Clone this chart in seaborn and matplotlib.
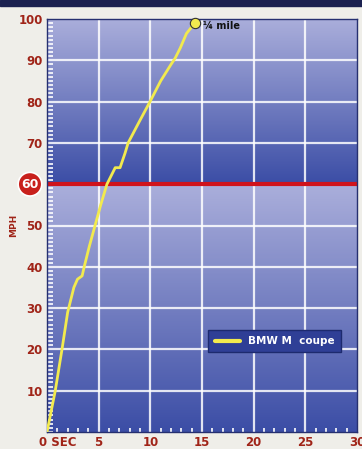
import numpy as np
import matplotlib
matplotlib.use("Agg")
import matplotlib.pyplot as plt
import matplotlib.transforms as mtransforms
from matplotlib.colors import LinearSegmentedColormap
import pandas as pd
import seaborn as sns

# acceleration run
seconds = [0.0, 0.4, 0.8, 1.45, 2.0, 2.6, 2.95, 3.4, 3.6, 4.1, 4.65, 5.2, 5.8, 6.2, 6.6, 7.07, 7.55, 7.85, 8.9, 9.97, 11.0, 12.0, 12.4, 12.9, 13.5, 14.3]
mph = [0.0, 5.0, 10.0, 20.0, 29.0, 35.0, 37.0, 37.8, 40.0, 45.0, 50.0, 55.0, 60.0, 62.0, 64.0, 64.0, 67.5, 70.0, 75.0, 80.0, 85.0, 89.0, 90.5, 93.0, 96.5, 99.0]
car = "BMW M  coupe"
x_ticks = [0, 5, 10, 15, 20, 25, 30]
x_labels = ["0 SEC", "5", "10", "15", "20", "25", "30"]
y_ticks = [10, 20, 30, 40, 50, 60, 70, 80, 90, 100]
y_labels = ["10", "20", "30", "40", "50", "", "70", "80", "90", "100"]
quarter_mile = (14.3, 99.0)

df = pd.DataFrame({"sec": seconds, "mph": mph, "car": car})

sns.set_style("white")
plt.rcParams["font.family"] = ["Liberation Sans Narrow", "DejaVu Sans"]

label_red = "#a02418"

fig = plt.figure(figsize=(3.62, 4.49), dpi=100, facecolor="#efeee9")
ax = fig.add_axes([47 / 362, 17 / 449, 310 / 362, 413 / 449])

# background gradients: 100 -> 60 and 60 -> 0
cmap = LinearSegmentedColormap.from_list("bg", ["#3c4ea6", "#aaaedb"])
grad = np.linspace(0, 1, 100).reshape(-1, 1)
ax.imshow(grad, extent=[0, 30, 60, 100], origin="lower", cmap=cmap, aspect="auto", zorder=0)
ax.imshow(grad, extent=[0, 30, 0, 60], origin="lower", cmap=cmap, aspect="auto", zorder=0)

for xv in x_ticks[1:-1]:
    ax.axvline(xv, color="white", lw=1.6, alpha=0.85, zorder=1)
for yv in y_ticks[:-1]:
    if yv != 60:
        ax.axhline(yv, color="white", lw=1.6, alpha=0.85, zorder=1)
ax.axhline(60, color="#d0131c", lw=3, zorder=2)

sns.lineplot(data=df, x="sec", y="mph", hue="car", palette=["#f2ea4e"],
             lw=2, ax=ax, zorder=3, sort=False)
ax.scatter([quarter_mile[0]], [quarter_mile[1]], s=55, color="#f2ea4e",
           edgecolor="#333333", lw=0.8, zorder=4, clip_on=False)
ax.text(quarter_mile[0] + 0.8, quarter_mile[1] - 0.8, "¼ mile", fontsize=7,
        fontweight="bold", color="#111111", va="center", zorder=4)

ax.set_xlim(0, 30)
ax.set_ylim(0, 100)
ax.set_xticks(x_ticks)
ax.set_xticklabels(x_labels)
ax.set_yticks(y_ticks)
ax.set_yticklabels(y_labels)
ax.set_xticks(np.arange(0, 31, 1), minor=True)
ax.set_yticks(np.arange(0, 101, 1), minor=True)
ax.tick_params(axis="both", which="major", length=0, labelsize=8.5,
               labelcolor=label_red, pad=3)
ax.tick_params(axis="x", which="minor", direction="in", length=3, width=1.2,
               color="white", bottom=True)
ax.tick_params(axis="y", which="minor", direction="in", length=4, width=1.2,
               color="white", left=True)
for lab in ax.get_xticklabels() + ax.get_yticklabels():
    lab.set_fontweight("bold")
first = ax.get_xticklabels()[0]
first.set_ha("left")
first.set_transform(first.get_transform() + mtransforms.ScaledTranslation(-6 / 72, 0, fig.dpi_scale_trans))

ax.set_xlabel("")
ax.set_ylabel("")
fig.text(14 / 362, 1 - 225 / 449, "MPH", fontsize=6.5, fontweight="bold",
         color=label_red, rotation=90, ha="center", va="center")

# red badge for 60
ax.text(-0.055, 60, "60", transform=ax.get_yaxis_transform(), color="white",
        fontsize=9, fontweight="bold", ha="center", va="center", clip_on=False,
        bbox=dict(boxstyle="circle,pad=0.25", fc="#c8201c", ec="white", lw=1.2))

for s in ax.spines.values():
    s.set_color("#263070")
    s.set_linewidth(1)

leg = ax.legend(loc="lower right", bbox_to_anchor=(0.965, 0.18), frameon=True,
                fontsize=7.5, handlelength=2.4, borderpad=0.6, fancybox=False)
leg.get_frame().set_facecolor("#2f3f96")
leg.get_frame().set_edgecolor("#1d2a6e")
leg.get_frame().set_alpha(1)
for t in leg.get_texts():
    t.set_color("white")
    t.set_fontweight("bold")
for line in leg.get_lines():
    line.set_linewidth(3)

# dark band at the top of the page
fig.add_artist(plt.Rectangle((0, 1 - 6 / 449), 1, 6 / 449, transform=fig.transFigure,
                             color="#1b2150", zorder=10))

fig.savefig("out.png", dpi=100, facecolor=fig.get_facecolor())
